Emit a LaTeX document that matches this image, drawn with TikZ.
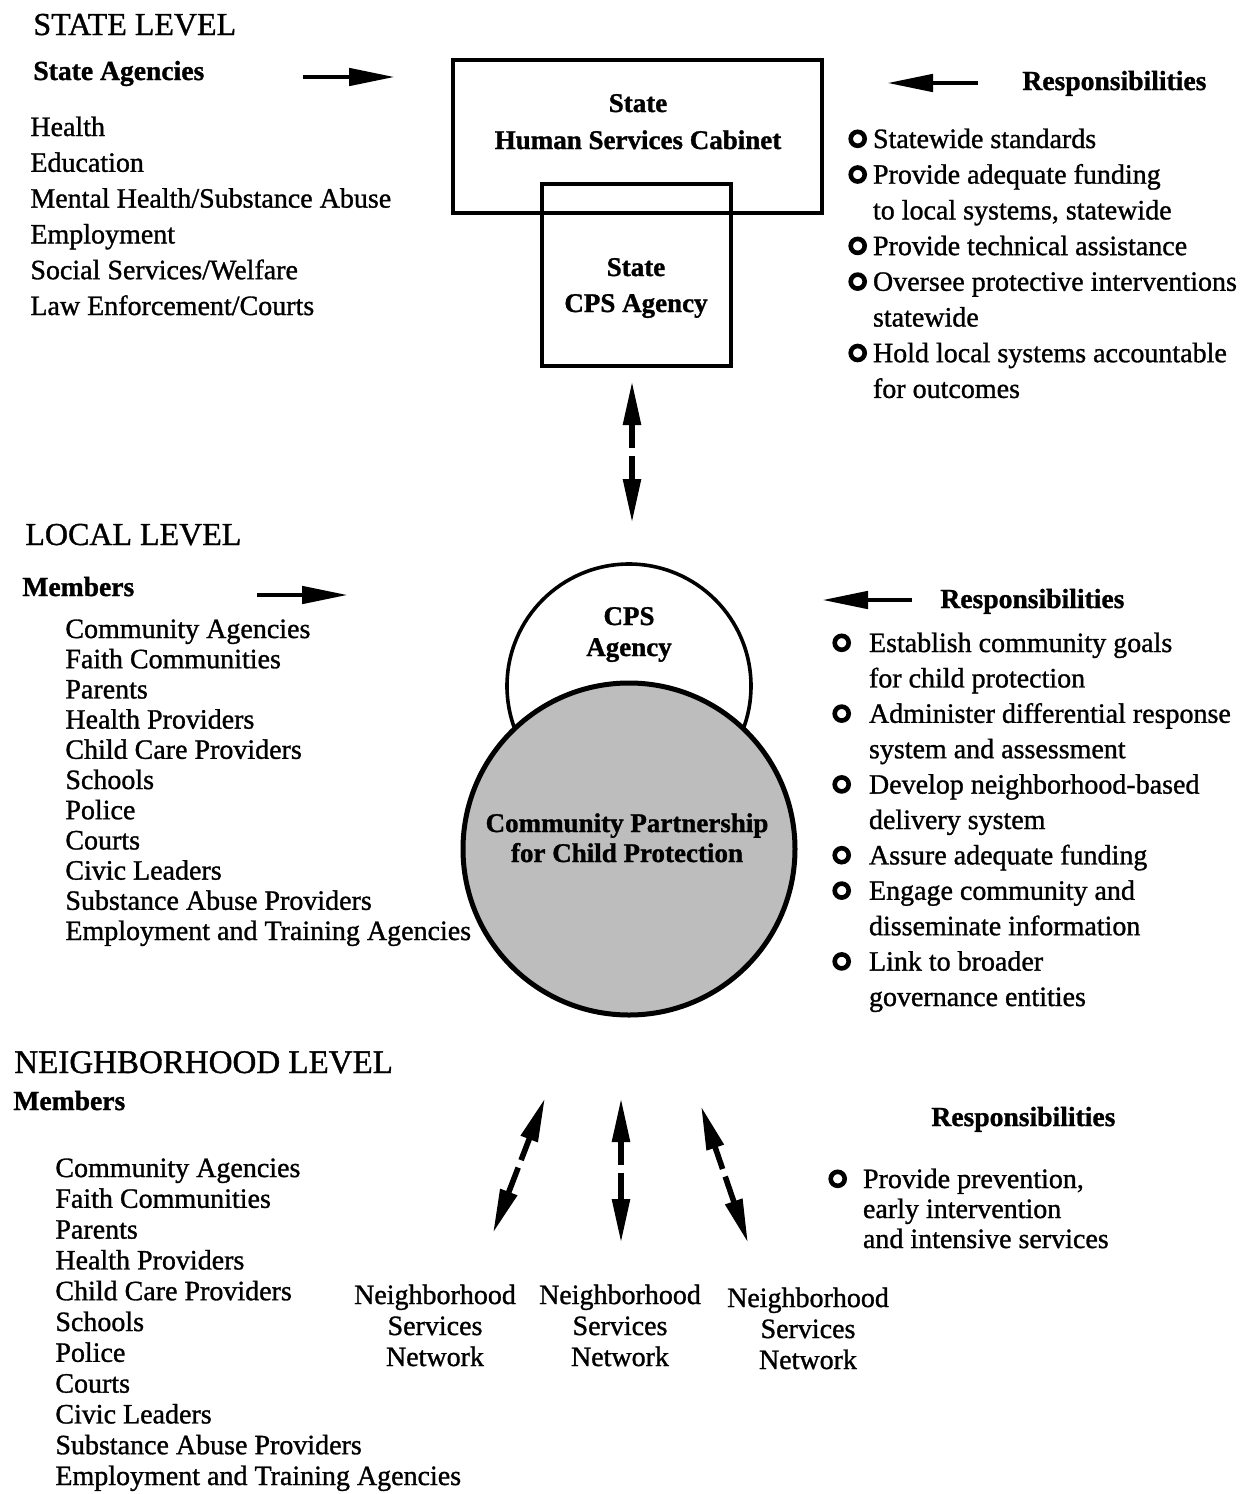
\documentclass[tikz,border=0pt]{standalone}
\usepackage{fontspec}
\setmainfont{Liberation Serif}[FakeBold=1.1]
\usetikzlibrary{arrows.meta}

\newcommand{\liststack}[1]{\begin{tabular}[t]{@{}l@{}}#1\end{tabular}}
\newcommand{\centerstack}[1]{\begin{tabular}[t]{@{}c@{}}#1\end{tabular}}
\newcommand{\bul}{\tikz[baseline=0pt]\draw[line width=2.3pt] (0pt,4.6pt) circle[radius=3.5pt];}
\newcommand{\duties}[2]{\begin{tabular}[t]{@{}l@{\hspace{#1}}l@{}}#2\end{tabular}}

\begin{document}
\begin{tikzpicture}[
  x=0.5pt, y=-0.5pt,
  level/.style={anchor=base west, inner sep=0pt, font=\fontsize{16}{19}\selectfont},
  subhead/.style={anchor=base west, inner sep=0pt, font=\bfseries\fontsize{13.8}{16}\selectfont},
  txt/.style={anchor=base west, inner sep=0pt, font=\fontsize{14}{#1}\selectfont},
  ctxt/.style={anchor=base, inner sep=0pt, font=\fontsize{14}{#1}\selectfont},
  btxt/.style={anchor=base, inner sep=0pt, font=\bfseries\fontsize{13.5}{#1}\selectfont},
  frame/.style={draw, line width=2pt, inner sep=0pt},
  ring/.style={draw, circle, inner sep=0pt},
  fat/.style={-{Triangle[length=23pt,width=8.5pt]}, line width=2.4pt},
  duplex/.style={{Triangle[length=22pt,width=8.5pt]}-{Triangle[length=22pt,width=8.5pt]},
    line width=2.8pt, dash pattern=on 12pt off 4pt on 30pt}
]
\useasboundingbox (0,0) rectangle (1246,1494);

% state level
\node[level] (statelvl) at (33,35) {STATE LEVEL};
\node[subhead] (agencies) at (33,80) {State Agencies};
\node[txt=17.9pt] (agencylist) at (30,136) {\liststack{Health\\Education\\
  Mental Health/Substance Abuse\\Employment\\Social Services/Welfare\\
  Law Enforcement/Courts}};

\node[frame, minimum width=184.5pt, minimum height=76.5pt] (cabinet) at (637.5,136.5) {};
\node[frame, minimum width=94.5pt, minimum height=91pt] (scps) at (636.5,275) {};
\node[btxt=18.5pt] (cabtxt) at (638,112) {\centerstack{State\\Human Services Cabinet}};
\node[btxt=18pt] (scpstxt) at (636,276) {\centerstack{State\\CPS Agency}};

\node[subhead] (stateresp) at (1022,90) {Responsibilities};
\node[txt=17.85pt] (statedut) at (848,148) {\duties{3pt}{%
  \bul & Statewide standards\\
  \bul & Provide adequate funding\\
       & to local systems, statewide\\
  \bul & Provide technical assistance\\
  \bul & Oversee protective interventions\\
       & statewide\\
  \bul & Hold local systems accountable\\
       & for outcomes}};

% local level
\node[level] (locallvl) at (25,545) {LOCAL LEVEL};
\node[subhead] (localmem) at (22,596) {Members};
\node[txt=15.1pt] (locallist) at (65,638) {\liststack{Community Agencies\\
  Faith Communities\\Parents\\Health Providers\\Child Care Providers\\
  Schools\\Police\\Courts\\Civic Leaders\\Substance Abuse Providers\\
  Employment and Training Agencies}};

\node[ring, line width=1.8pt, minimum size=122pt] (cpsag) at (629,686) {};
\node[ring, line width=2.5pt, fill=black!26, minimum size=166pt] (partner) at (629,849) {};
\node[btxt=15.5pt] (cpstxt) at (629,625) {\centerstack{CPS\\Agency}};
\node[btxt=15pt] (partnertxt) at (627,832) {\centerstack{Community Partnership\\for Child Protection}};

\node[subhead] (localresp) at (940,608) {Responsibilities};
\node[txt=17.7pt] (localdut) at (832,652) {\duties{9pt}{%
  \bul & Establish community goals\\
       & for child protection\\
  \bul & Administer differential response\\
       & system and assessment\\
  \bul & Develop neighborhood-based\\
       & delivery system\\
  \bul & Assure adequate funding\\
  \bul & Engage community and\\
       & disseminate information\\
  \bul & Link to broader\\
       & governance entities}};

% neighborhood level
\node[level, font=\fontsize{16.5}{19}\selectfont] (neighlvl) at (14,1073) {NEIGHBORHOOD LEVEL};
\node[subhead] (neighmem) at (13,1110) {Members};
\node[txt=15.4pt] (neighlist) at (55,1177) {\liststack{Community Agencies\\
  Faith Communities\\Parents\\Health Providers\\Child Care Providers\\
  Schools\\Police\\Courts\\Civic Leaders\\Substance Abuse Providers\\
  Employment and Training Agencies}};

\node[ctxt=15.5pt] (net1) at (435,1304) {\centerstack{Neighborhood\\Services\\Network}};
\node[ctxt=15.5pt] (net2) at (620,1304) {\centerstack{Neighborhood\\Services\\Network}};
\node[ctxt=15.5pt] (net3) at (808,1307) {\centerstack{Neighborhood\\Services\\Network}};

\node[subhead] (neighresp) at (931,1126) {Responsibilities};
\node[txt=15pt] (neighdut) at (828,1188) {\duties{8pt}{%
  \bul & Provide prevention,\\
       & early intervention\\
       & and intensive services}};

% arrow ends
\coordinate (sa1) at (303,77);  \coordinate (sa2) at (395,77);
\coordinate (sr1) at (978,83);  \coordinate (sr2) at (887,83);
\coordinate (la1) at (257,595); \coordinate (la2) at (348,595);
\coordinate (lr1) at (912,600); \coordinate (lr2) at (822,600);
\coordinate (v1) at (632,381);  \coordinate (v2) at (632,523);
\coordinate (d1a) at (545,1098); \coordinate (d1b) at (493,1233);
\coordinate (d2a) at (621,1098); \coordinate (d2b) at (621,1243);
\coordinate (d3a) at (701,1106); \coordinate (d3b) at (748,1243);

\draw[fat] (sa1) -- (sa2);
\draw[fat] (sr1) -- (sr2);
\draw[fat] (la1) -- (la2);
\draw[fat] (lr1) -- (lr2);
\draw[duplex] (v1) -- (v2);
\draw[duplex] (d1a) -- (d1b);
\draw[duplex] (d2a) -- (d2b);
\draw[duplex] (d3a) -- (d3b);
\end{tikzpicture}
\end{document}
